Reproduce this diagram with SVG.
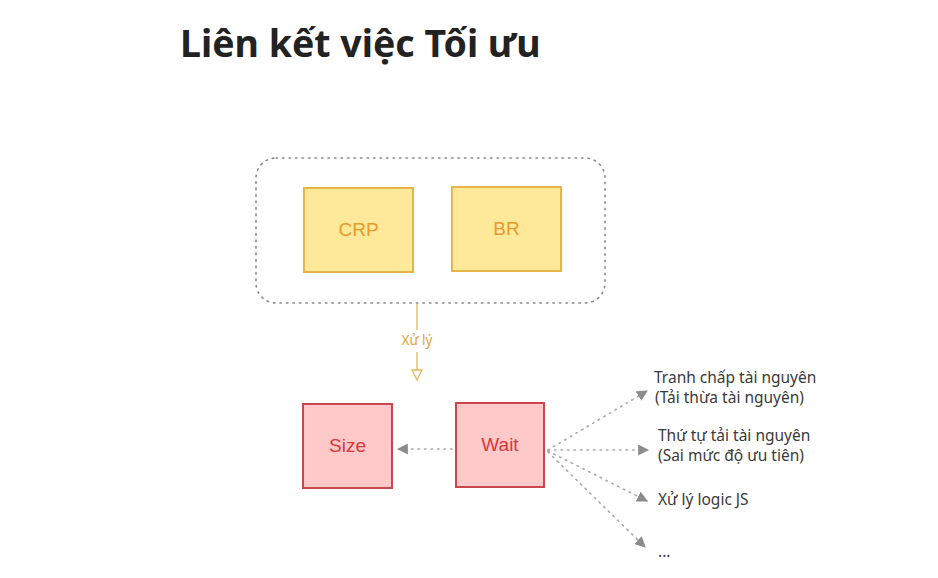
<svg xmlns="http://www.w3.org/2000/svg" width="938" height="578" viewBox="0 0 938 578">
<defs>
<style>
.title{font-family:"Noto Sans","Open Sans",sans-serif;font-weight:700;font-size:37.5px;fill:#222}
.ybox{fill:#fee99a;stroke:#e7b447;stroke-width:2}
.rbox{fill:#ffc9c9;stroke:#c9484e;stroke-width:2}
.yt{font-family:"Liberation Sans","DejaVu Sans",sans-serif;font-size:19px;fill:#e69a2a;text-anchor:middle}
.rt{font-family:"Liberation Sans","DejaVu Sans",sans-serif;font-size:19px;fill:#d8373c;text-anchor:middle}
.lbl{font-family:"Noto Sans",sans-serif;font-size:15.5px;fill:#3a3a3a}
.dot{fill:none;stroke:#a9a9a9;stroke-width:1.6;stroke-dasharray:1.5 5;stroke-linecap:round}
</style>
<marker id="ah" viewBox="0 0 10 10" refX="9" refY="5" markerWidth="11" markerHeight="11" markerUnits="userSpaceOnUse" orient="auto">
<path d="M0,0 L10,5 L0,10 z" fill="#8c8c8c"/>
</marker>
</defs>
<rect width="938" height="578" fill="#ffffff"/>
<text class="title" x="180" y="57">Liên kết việc Tối ưu</text>

<g id="group-container">
<rect x="256" y="158" width="349" height="145" rx="20" fill="none" stroke="#8a8a8a" stroke-width="1.6" stroke-dasharray="1.5 5" stroke-linecap="round"/>
</g>
<g id="node-crp">
<rect class="ybox" x="304" y="188" width="109" height="84"/>
<text class="yt" x="358.5" y="236">CRP</text>
</g>
<g id="node-br">
<rect class="ybox" x="452" y="187" width="109" height="84"/>
<text class="yt" x="506.5" y="235">BR</text>
</g>
<g id="node-size">
<rect class="rbox" x="303" y="404" width="89" height="84"/>
<text class="rt" x="347.5" y="452">Size</text>
</g>
<g id="node-wait">
<rect class="rbox" x="456" y="403" width="88" height="84"/>
<text class="rt" x="500" y="451">Wait</text>
</g>
<g id="node-labels">
<text class="lbl" x="654" y="383">Tranh chấp tài nguyên</text>
<text class="lbl" x="655" y="403">(Tải thừa tài nguyên)</text>
<text class="lbl" x="658" y="441">Thứ tự tải tài nguyên</text>
<text class="lbl" x="658" y="461">(Sai mức độ ưu tiên)</text>
<text class="lbl" x="658" y="505">Xử lý logic JS</text>
<text class="lbl" x="658" y="557">...</text>
</g>

<g id="connectors">
<line x1="417" y1="304" x2="417" y2="330" stroke="#eab45a" stroke-width="1.3"/>
<line x1="417" y1="352" x2="417" y2="370" stroke="#eab45a" stroke-width="1.3"/>
<path d="M412,370 L422,370 L417,380 z" fill="#fff" stroke="#eab45a" stroke-width="1.3"/>
<text x="417" y="345" font-family="Noto Sans,sans-serif" font-size="13.5px" fill="#e3a23c" text-anchor="middle">Xử lý</text>
<line class="dot" x1="452" y1="449" x2="398" y2="449" marker-end="url(#ah)"/>
<line class="dot" x1="548" y1="450" x2="647" y2="391" marker-end="url(#ah)"/>
<line class="dot" x1="548" y1="450" x2="648" y2="450" marker-end="url(#ah)"/>
<line class="dot" x1="548" y1="451" x2="647" y2="501" marker-end="url(#ah)"/>
<line class="dot" x1="548" y1="452" x2="645" y2="547" marker-end="url(#ah)"/>
</g>
</svg>
